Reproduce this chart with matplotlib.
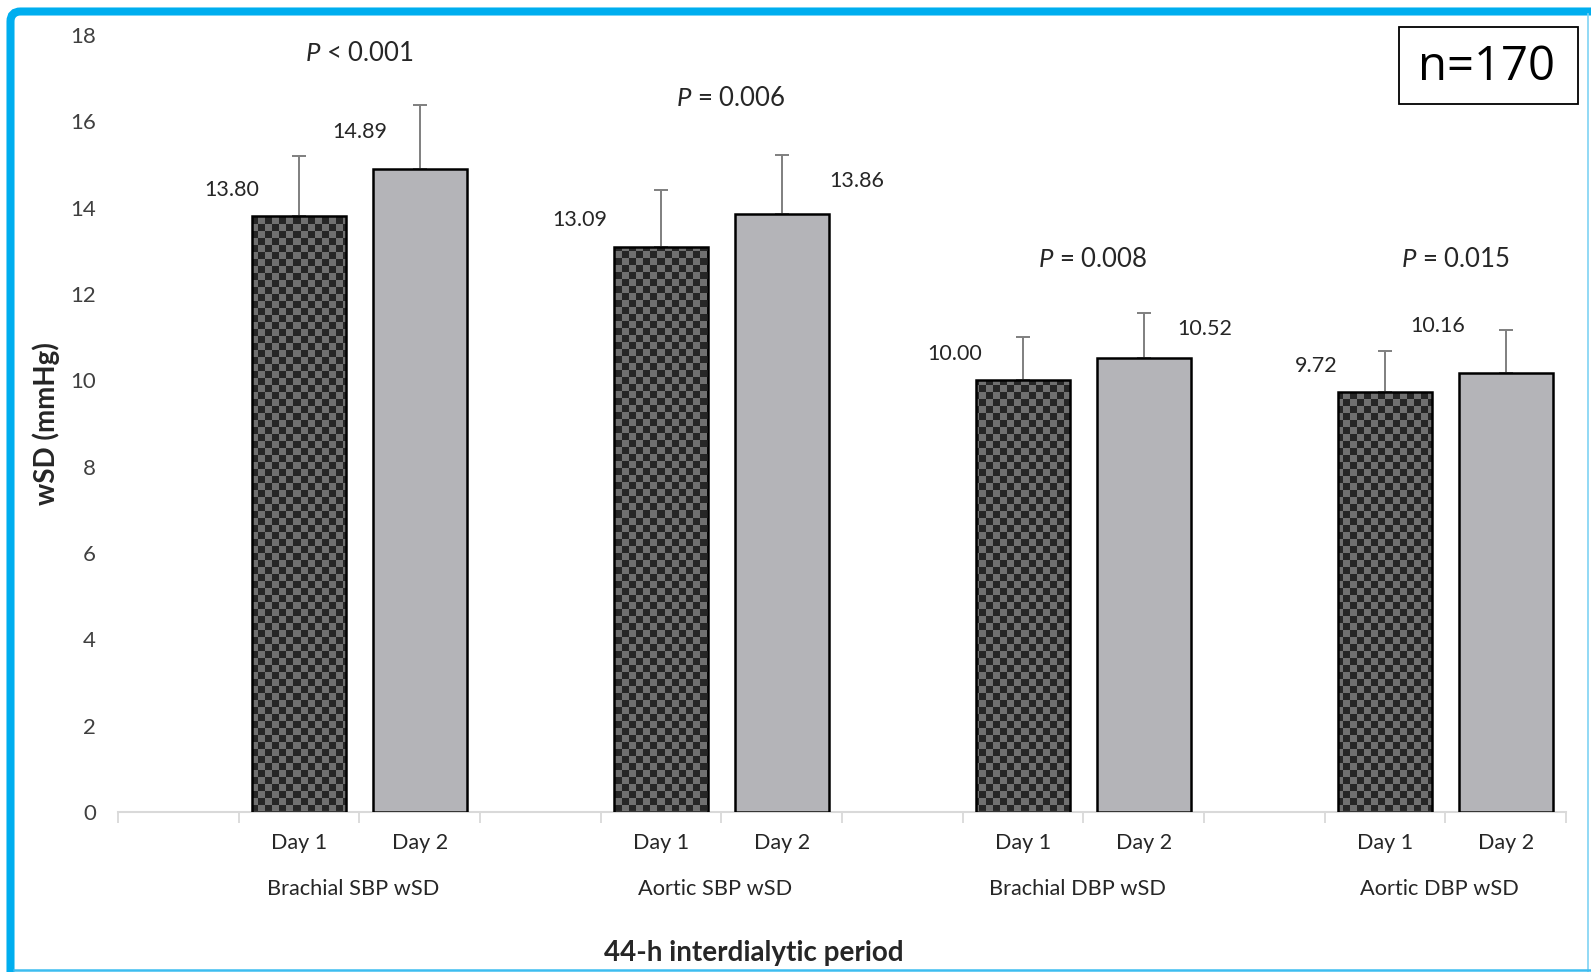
import numpy as np
import matplotlib
matplotlib.use('Agg')
import matplotlib.pyplot as plt
from matplotlib.colors import ListedColormap
from matplotlib.patches import Rectangle, FancyBboxPatch
from matplotlib.lines import Line2D
from matplotlib.transforms import IdentityTransform, blended_transform_factory

plt.rcParams.update({
    'font.family': ['Lato', 'DejaVu Sans'],
    'mathtext.fontset': 'custom',
    'mathtext.rm': 'Lato',
    'mathtext.it': 'Lato:italic',
    'text.color': '#262626',
})

# Data
groups = ['Brachial SBP wSD', 'Aortic SBP wSD', 'Brachial DBP wSD', 'Aortic DBP wSD']
days = ['Day 1', 'Day 2']
day1_means = [13.80, 13.09, 10.00, 9.72]
day2_means = [14.89, 13.86, 10.52, 10.16]
day1_sd = [1.39, 1.31, 1.00, 0.95]
day2_sd = [1.49, 1.37, 1.04, 1.00]
p_labels = ['$P$ < 0.001', '$P$ = 0.006', '$P$ = 0.008', '$P$ = 0.015']
n_label = 'n=170'
yticks = [0, 2, 4, 6, 8, 10, 12, 14, 16, 18]

# Label placement (Excel-like, irregular)
p_pos = [(1.5, 17.56), (4.58, 16.54), (7.58, 12.81), (10.58, 12.81)]
day1_lab_off = [(-0.56, 0.61), (-0.67, 0.62), (-0.57, 0.61), (-0.57, 0.61)]
day2_lab_off = [(-0.50, 0.86), (0.62, 0.76), (0.51, 0.67), (-0.56, 1.10)]

W, H = 1591, 972
fig = plt.figure(figsize=(W / 100, H / 100), dpi=100)
ax = fig.add_axes([118 / W, 1 - 812 / H, 1448 / W, 777 / H])

x1 = np.arange(len(groups)) * 3 + 1
x2 = x1 + 1
bw = 0.78

ax.set_xlim(-0.5, 11.5)
ax.set_ylim(0, 18)

# Day 2 bars (plain light grey), outline drawn above error bars
ax.bar(x2, day2_means, width=bw, color='#b4b4b8', edgecolor='none', zorder=2)
ax.bar(x2, day2_means, width=bw, color='none', edgecolor='black', linewidth=1.8, zorder=4)

# Day 1 bars with checker texture
b1 = ax.bar(x1, day1_means, width=bw, color='none', edgecolor='black', linewidth=1.8, zorder=4)
cell = 7
ii, jj = np.mgrid[0:777, 0:1448]
pattern = ((ii // cell) + (jj // cell)) % 2
cmap = ListedColormap(['#707070', '#262626'])
for patch in b1:
    im = ax.imshow(pattern, extent=(-0.5, 11.5, 0, 18), aspect='auto', cmap=cmap,
                   interpolation='nearest', zorder=2)
    im.set_clip_path(patch)
ax.set_xlim(-0.5, 11.5)
ax.set_ylim(0, 18)

# upper error bars
for xs, m, sd in [(x1, day1_means, day1_sd), (x2, day2_means, day2_sd)]:
    ax.errorbar(xs, m, yerr=[np.zeros(len(sd)), sd], fmt='none', ecolor='#7f7f7f',
                elinewidth=1.4, capsize=5, capthick=1.4, zorder=3)

# value labels
for i in range(len(groups)):
    ax.text(x1[i] + day1_lab_off[i][0], day1_means[i] + day1_lab_off[i][1],
            f'{day1_means[i]:.2f}', ha='center', va='center', fontsize=15.5)
    ax.text(x2[i] + day2_lab_off[i][0], day2_means[i] + day2_lab_off[i][1],
            f'{day2_means[i]:.2f}', ha='center', va='center', fontsize=15.5)
    ax.text(p_pos[i][0], p_pos[i][1], p_labels[i], ha='center', va='center', fontsize=18.5)

# axes styling
for s in ['left', 'right', 'top']:
    ax.spines[s].set_visible(False)
ax.spines['bottom'].set_color('#d9d9d9')
ax.spines['bottom'].set_linewidth(1.5)
ax.set_yticks(yticks)
ax.set_yticklabels([str(t) for t in yticks])
ax.tick_params(axis='y', length=0, pad=16, labelsize=16, labelcolor='#404040')
ax.set_xticks(np.concatenate([x1, x2]))
ax.set_xticklabels(days[:1] * len(groups) + days[1:] * len(groups))
ax.set_xticks(np.arange(-0.5, 12, 1), minor=True)
ax.tick_params(axis='x', which='major', length=0, pad=15, labelsize=15.5, labelcolor='#262626')
ax.tick_params(axis='x', which='minor', length=8, width=1.3, color='#d9d9d9', direction='out')

trans = blended_transform_factory(ax.transData, fig.transFigure)
for i, g in enumerate(groups):
    ax.text(x1[i] + 0.45, 1 - 889 / H, g, transform=trans, ha='center', va='center', fontsize=15.7)

fig.text(46 / W, 1 - 424 / H, 'wSD (mmHg)', rotation=90, ha='center', va='center',
         fontsize=20, fontweight='bold')
fig.text(754 / W, 1 - 953 / H, '44-h interdialytic period', ha='center', va='center',
         fontsize=20, fontweight='bold')

# n box
fig.add_artist(Rectangle((1399, H - 104), 179, 77, transform=IdentityTransform(),
                         fill=False, edgecolor='black', linewidth=1.3))
fig.text(1486 / W, 1 - 67 / H, n_label, ha='center', va='center', fontsize=34,
         family='Open Sans', color='black')

# blue frame
fig.add_artist(FancyBboxPatch((10.5, -30), 1700, H - 10.5 + 30 - 1, transform=IdentityTransform(),
                              boxstyle='round,pad=0,rounding_size=10', fill=False,
                              edgecolor='#00aeef', linewidth=5.8))
fig.add_artist(Line2D([1588, 1588], [0, H - 14], transform=IdentityTransform(),
                      color='#7fd3f3', linewidth=1.2))
fig.add_artist(Line2D([14, W], [2, 2], transform=IdentityTransform(),
                      color='#3dbdf0', linewidth=1.8))

fig.savefig('out.png', dpi=100)
